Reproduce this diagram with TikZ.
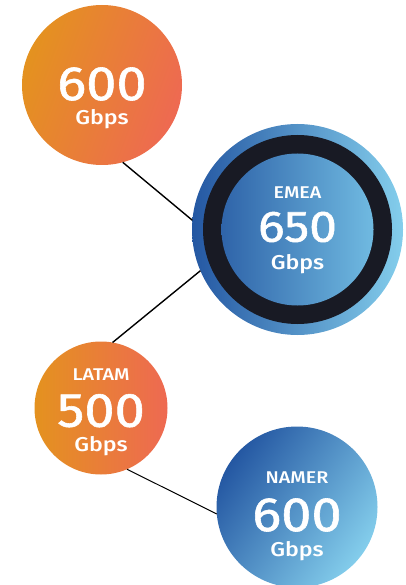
\documentclass[tikz,border=0pt]{standalone}
\usepackage{fontspec}
\setmainfont{Fira Sans}
\newfontfamily\semifont{Fira Sans Medium}[FakeStretch=1.16]
\newfontfamily\numfont{Fira Sans}[FakeStretch=1.13, FakeBold=1.2]
\definecolor{orangeA}{HTML}{E4921F}
\definecolor{orangeB}{HTML}{EE6952}
\definecolor{blueA}{HTML}{2457A2}
\definecolor{blueB}{HTML}{84CEEC}
\definecolor{coreA}{HTML}{2F64A9}
\definecolor{coreB}{HTML}{70BAE1}
\definecolor{ringdark}{HTML}{181A24}

\begin{document}
\begin{tikzpicture}[x=1pt, y=-1pt,
		bubble/.style={circle, inner sep=0pt, outer sep=0pt, minimum size=#1},
		hot/.style={left color=orangeA, right color=orangeB},
		cold/.style={left color=blueA, right color=blueB},
		region/.style={anchor=base, inner sep=0pt, text=white, font=\semifont\fontsize{17}{17}\selectfont},
		amount/.style={anchor=base, inner sep=0pt, text=white, font=\numfont\fontsize{48}{48}\selectfont},
		unit/.style={anchor=base, inner sep=0pt, text=white, font=\semifont\fontsize{20}{20}\selectfont},
		link/.style={draw=black, line width=1.4pt}]
		\useasboundingbox (0,0) rectangle (405,585);
		% bubbles
		\node[bubble=160pt, hot, shading angle=70] (top) at (102,85) {};
		\node[bubble=211pt, cold] (emea) at (297.5,229.5) {};
		\node[bubble=189pt, fill=ringdark] (emearing) at (emea) {};
		\node[bubble=152pt, left color=coreA, right color=coreB] (emeacore) at (emea) {};
		\node[bubble=133pt, hot] (latam) at (101,408) {};
		\node[bubble=161pt, cold, shading angle=55] (namer) at (297,507) {};
		% texts
		\node[amount] (topnum) at (102,100) {600};
		\node[unit] (topunit) at (102,125) {Gbps};
		\node[region] (emealbl) at (297.5,198.3) {EMEA};
		\node[amount, font=\numfont\fontsize{44}{44}\selectfont] (emeanum) at (297.5,241.7) {650};
		\node[unit] (emeaunit) at (297.5,269) {Gbps};
		\node[region] (latamlbl) at (101,380.7) {LATAM};
		\node[amount] (latamnum) at (101,426.7) {500};
		\node[unit] (latamunit) at (101,451) {Gbps};
		\node[region] (namerlbl) at (297,483.3) {NAMER};
		\node[amount] (namernum) at (297,531) {600};
		\node[unit] (namerunit) at (297,556.7) {Gbps};
		% links
		\draw[link] (top.-75) -- (emea.175);
		\draw[link] (emea.203) -- (latam.80);
		\draw[link, line width=1pt] (latam.-67.5) -- (namer.185);
	\end{tikzpicture}
\end{document}
